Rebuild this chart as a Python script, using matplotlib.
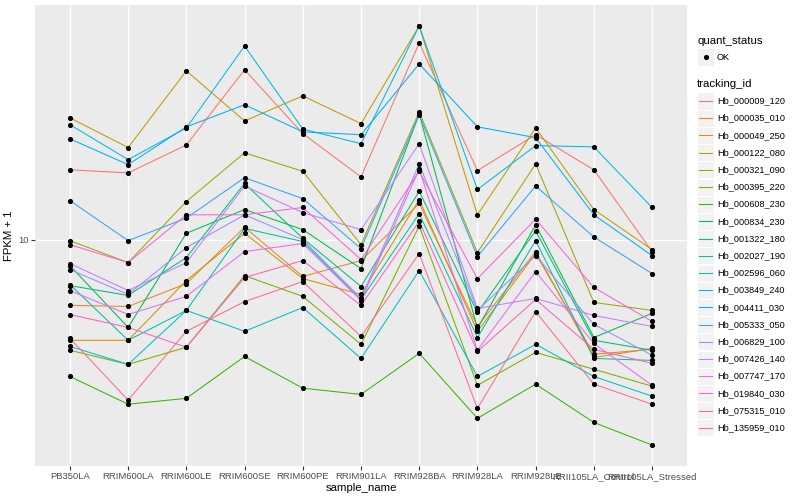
import matplotlib
matplotlib.use("Agg")
import matplotlib.pyplot as plt
from matplotlib.lines import Line2D
from matplotlib.patches import Rectangle
from matplotlib.ticker import FixedLocator, NullLocator, FixedFormatter

plt.rcParams['font.family'] = ['Liberation Sans', 'DejaVu Sans']

samples = ["PB350LA", "RRIM600LA", "RRIM600LE", "RRIM600SE", "RRIM600PE", "RRIM901LA",
           "RRIM928BA", "RRIM928LA", "RRIM928LE", "RRII105LA_Control", "RRII105LA_Stressed"]

tracking_ids = ["Hb_000009_120", "Hb_000035_010", "Hb_000049_250", "Hb_000122_080",
                "Hb_000321_090", "Hb_000395_220", "Hb_000608_230", "Hb_000834_230",
                "Hb_001322_180", "Hb_002027_190", "Hb_002596_060", "Hb_003849_240",
                "Hb_004411_030", "Hb_005333_050", "Hb_006829_100", "Hb_007426_140",
                "Hb_007747_170", "Hb_019840_030", "Hb_075315_010", "Hb_135959_010"]

colors = ["#F8766D", "#EA8331", "#D89000", "#C09B00", "#A3A500", "#7CAE00", "#39B600",
          "#00BB4E", "#00BF7D", "#00C1A3", "#00BFC4", "#00BAE0", "#00B0F6", "#35A2FF",
          "#9590FF", "#C77CFF", "#E76BF3", "#FA62DB", "#FF62BC", "#FF6C91"]

# FPKM + 1, one list per tracking id, in sample order
hb_000009_120 = [17.1, 16.7, 20.7, 36.9, 22.6, 16.2, 45.4, 17.0, 22.4, 17.1, 9.12]
hb_000035_010 = [6.03, 5.98, 7.13, 11.0, 7.53, 8.51, 13.2, 5.13, 9.12, 4.04, 4.33]
hb_000049_250 = [4.61, 4.61, 7.30, 10.5, 7.41, 6.56, 13.6, 4.94, 8.98, 4.14, 4.30]
hb_000122_080 = [25.5, 20.3, 36.6, 24.9, 30.2, 24.4, 51.7, 12.1, 23.6, 12.6, 9.26]
hb_000321_090 = [9.92, 8.38, 13.4, 19.5, 16.9, 9.62, 26.7, 9.05, 17.9, 6.17, 5.80]
hb_000395_220 = [4.27, 3.83, 4.37, 7.58, 6.46, 4.47, 11.1, 3.26, 4.20, 3.69, 3.24]
hb_000608_230 = [3.49, 2.82, 2.95, 4.07, 3.19, 3.04, 4.17, 2.53, 3.29, 2.45, 2.06]
hb_000834_230 = [8.19, 5.09, 10.5, 12.6, 10.8, 8.00, 26.3, 5.05, 11.2, 4.71, 5.67]
hb_001322_180 = [7.02, 6.51, 8.71, 15.4, 10.1, 6.97, 14.5, 5.71, 10.7, 4.61, 4.27]
hb_002027_190 = [7.08, 4.61, 5.80, 10.9, 9.85, 6.31, 12.2, 4.71, 9.92, 4.01, 3.95]
hb_002596_060 = [4.40, 3.83, 5.80, 4.94, 5.93, 4.01, 7.88, 3.49, 4.47, 3.49, 3.00]
hb_003849_240 = [24.2, 18.5, 23.6, 44.3, 23.4, 20.9, 51.7, 14.7, 20.6, 20.4, 12.8]
hb_004411_030 = [21.7, 17.8, 23.8, 28.2, 22.9, 22.4, 38.6, 23.8, 21.9, 12.1, 8.84]
hb_005333_050 = [13.5, 9.92, 11.8, 16.1, 13.7, 9.33, 26.1, 8.78, 15.1, 10.2, 7.70]
hb_006829_100 = [7.94, 6.56, 9.40, 12.1, 10.0, 6.36, 17.9, 5.80, 8.84, 5.21, 4.11]
hb_007426_140 = [8.32, 6.76, 8.38, 15.1, 12.3, 10.8, 20.9, 5.89, 6.36, 5.58, 5.13]
hb_007747_170 = [6.76, 5.62, 6.46, 9.12, 9.70, 6.26, 17.2, 4.27, 7.82, 4.50, 3.26]
hb_019840_030 = [9.62, 8.38, 12.1, 12.1, 12.8, 8.58, 16.9, 7.41, 11.7, 6.92, 5.33]
hb_075315_010 = [5.62, 5.09, 4.37, 7.47, 8.51, 6.03, 11.5, 4.23, 6.31, 4.30, 3.86]
hb_135959_010 = [4.68, 2.91, 4.94, 6.21, 7.24, 4.75, 8.98, 2.73, 5.75, 3.29, 2.82]

series = [hb_000009_120, hb_000035_010, hb_000049_250, hb_000122_080, hb_000321_090,
          hb_000395_220, hb_000608_230, hb_000834_230, hb_001322_180, hb_002027_190,
          hb_002596_060, hb_003849_240, hb_004411_030, hb_005333_050, hb_006829_100,
          hb_007426_140, hb_007747_170, hb_019840_030, hb_075315_010, hb_135959_010]

fig = plt.figure(figsize=(8, 5), dpi=100)
ax = fig.add_axes([0.04375, 0.068, 0.815, 0.922])
ax.set_facecolor("#EBEBEB")
for s in ax.spines.values():
    s.set_visible(False)

x = list(range(len(samples)))
for vals, col in zip(series, colors):
    ax.plot(x, vals, color=col, lw=0.75, zorder=2)
for vals in series:
    ax.plot(x, vals, ls="none", marker="o", ms=2.7, color="black", zorder=3)

ax.set_yscale("log")
ax.margins(y=0.05)
ax.set_xlim(-0.6, len(samples) - 0.4)
ax.yaxis.set_major_locator(FixedLocator([10]))
ax.yaxis.set_major_formatter(FixedFormatter(["10"]))
ax.yaxis.set_minor_locator(NullLocator())
ax.set_xticks(x)
ax.set_xticklabels(samples)
ax.grid(True, color="white", lw=1.0, zorder=0)
ax.set_axisbelow(True)
ax.tick_params(axis="both", length=3, width=0.8, color="#333333",
               labelsize=6.8, labelcolor="#4D4D4D", pad=1.5)
ax.set_xlabel("sample_name", fontsize=8.2, labelpad=1)
ax.set_ylabel("FPKM + 1", fontsize=8.2, labelpad=3)

# legends, drawn in figure pixel coordinates
W, H = 800.0, 500.0
key_x, key_w = 697, 17


def fx(px):
    return px / W


def fy(py):
    return 1 - py / H


fig.text(fx(697), fy(41), "quant_status", fontsize=8.2, va="center", ha="left")
fig.patches.append(Rectangle((fx(key_x), fy(57 + 8.5)), key_w / W, 17 / H,
                             transform=fig.transFigure, facecolor="#F2F2F2",
                             edgecolor="white", lw=0.8))
fig.lines.append(Line2D([fx(key_x + key_w / 2)], [fy(57)], marker="o", ms=2.7,
                        color="black", transform=fig.transFigure))
fig.text(fx(717), fy(57), "OK", fontsize=6.6, va="center", ha="left")

fig.text(fx(697), fy(84), "tracking_id", fontsize=8.2, va="center", ha="left")
for i, (tid, col) in enumerate(zip(tracking_ids, colors)):
    cy = 101 + i * 17.2
    fig.patches.append(Rectangle((fx(key_x), fy(cy + 8.5)), key_w / W, 17 / H,
                                 transform=fig.transFigure, facecolor="#F2F2F2",
                                 edgecolor="white", lw=0.8))
    fig.lines.append(Line2D([fx(key_x + 2), fx(key_x + key_w - 2)], [fy(cy), fy(cy)],
                            color=col, lw=0.75, transform=fig.transFigure))
    fig.text(fx(717), fy(cy), tid, fontsize=6.6, va="center", ha="left")

fig.savefig("out.png", dpi=100)
